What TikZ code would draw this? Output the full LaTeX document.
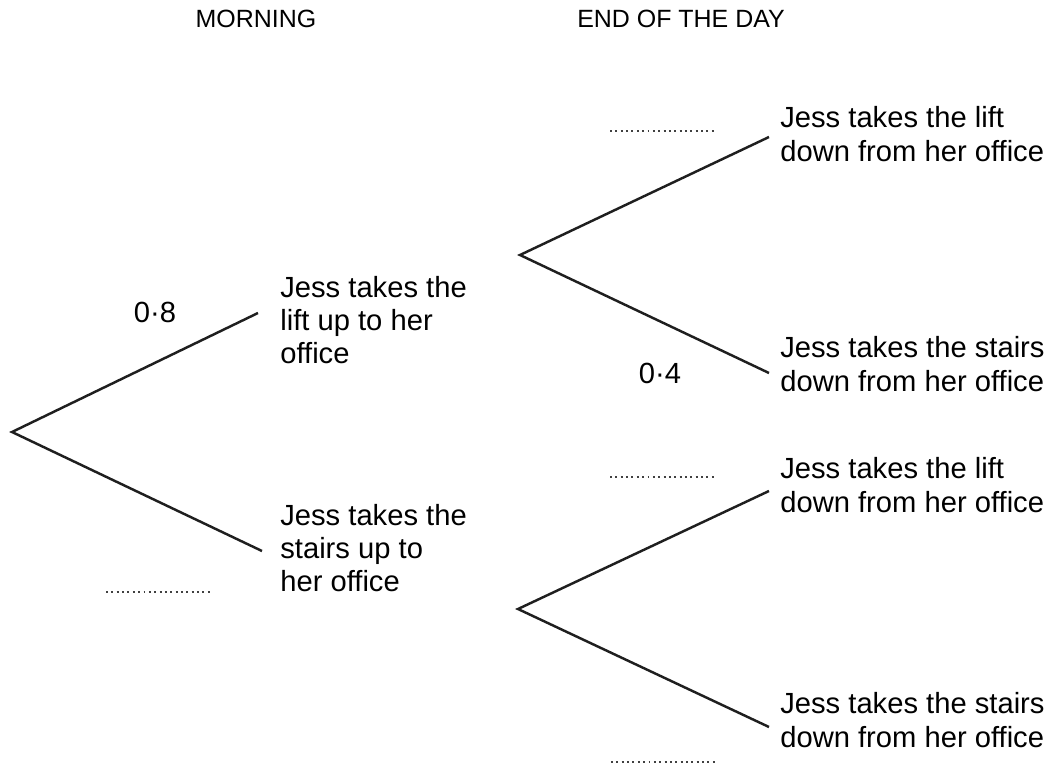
\documentclass[tikz,border=0pt]{standalone}
\usepackage{fontspec}
\setmainfont{Liberation Sans}
\usetikzlibrary{positioning}
\tikzset{
	branch/.style={line width=1.4pt, color=black!88, line join=miter},
	blank/.style={line width=1.1pt, color=black!75, dash pattern=on 1.1pt off 1.95pt},
	event/.style={anchor=west, align=left, inner sep=0pt, font=\fontsize{16.6}{19}\selectfont},
	heading/.style={inner sep=0pt, font=\fontsize{14.2}{17}\selectfont},
	prob/.style={inner sep=0pt, font=\fontsize{16.6}{19}\selectfont}
}

\begin{document}
\begin{tikzpicture}[x=0.02cm, y=-0.02cm]
			%%%%% START %%%%%
			\useasboundingbox (0, 0) rectangle (1052, 764);
			
			\node[heading] (morning) at (256, 19) {MORNING};
			\node[heading] (endday) at (681, 19) {END OF THE DAY};
			
			% morning
			\coordinate (root) at (12, 432);
			\coordinate (liftend) at (258, 313);
			\coordinate (stairsend) at (262, 551);
			\draw[branch] (liftend) -- (root) -- (stairsend);
			\node[event] (liftup) at (280, 320) {Jess takes the\\lift up to her\\office};
			\node[event] (stairsup) at (280, 548) {Jess takes the\\stairs up to\\her office};
			\node[prob] (pliftup) at (155, 312) {0·8};
			\draw[blank] (106, 592) -- (213, 592);
			
			% end of the day, after the lift
			\coordinate (forka) at (520, 255);
			\coordinate (aliftend) at (769, 137);
			\coordinate (astairsend) at (769, 373);
			\draw[branch] (aliftend) -- (forka) -- (astairsend);
			\node[event] (aliftdown) at (780, 134) {Jess takes the lift\\down from her office};
			\node[event] (astairsdown) at (780, 364) {Jess takes the stairs\\down from her office};
			\node[prob] (pastairs) at (660, 373) {0·4};
			\draw[blank] (610, 131) -- (717, 131);
			
			% end of the day, after the stairs
			\coordinate (forkb) at (518, 609);
			\coordinate (bliftend) at (769, 491);
			\coordinate (bstairsend) at (769, 727);
			\draw[branch] (bliftend) -- (forkb) -- (bstairsend);
			\node[event] (bliftdown) at (780, 485) {Jess takes the lift\\down from her office};
			\node[event] (bstairsdown) at (780, 720) {Jess takes the stairs\\down from her office};
			\draw[blank] (610, 477) -- (717, 477);
			\draw[blank] (611, 762) -- (717, 762);
			
			%%%%% END %%%%%
\end{tikzpicture}
\end{document}
